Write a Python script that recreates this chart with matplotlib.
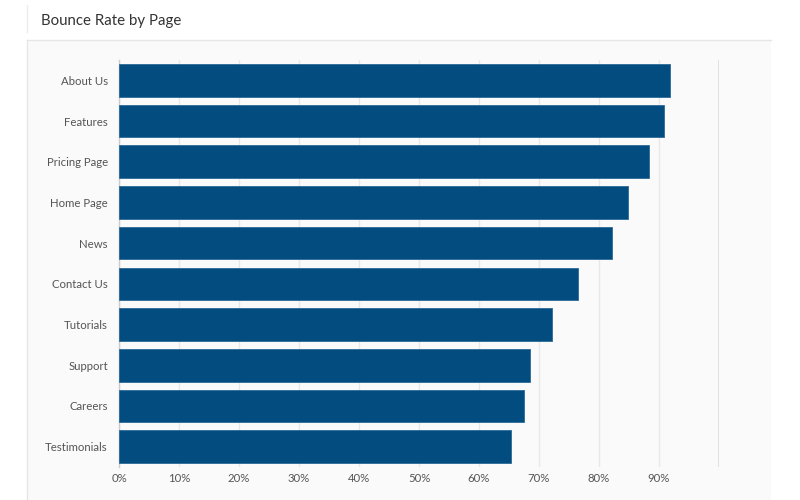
import matplotlib.pyplot as plt
from matplotlib.patches import Rectangle
from matplotlib.lines import Line2D

pages = ["About Us", "Features", "Pricing Page", "Home Page", "News",
         "Contact Us", "Tutorials", "Support", "Careers", "Testimonials"]
bounce = [91.8, 90.8, 88.3, 84.8, 82.2, 76.5, 72.2, 68.5, 67.5, 65.3]
ticks = [0, 10, 20, 30, 40, 50, 60, 70, 80, 90]
tick_labels = [f"{t}%" for t in ticks]

plt.rcParams['font.family'] = ['Lato', 'DejaVu Sans']

fig = plt.figure(figsize=(8, 5), dpi=100)
fig.patch.set_facecolor('white')

# card background
fig.patches.append(Rectangle((27/800, 0), (771-27)/800, 460/500, transform=fig.transFigure,
                             facecolor='#fafafa', edgecolor='none', zorder=-10))
fig.lines.append(Line2D([27/800, 771/800], [460/500, 460/500], transform=fig.transFigure,
                        color='#e6e6e6', lw=1, zorder=-9))
fig.lines.append(Line2D([27/800, 27/800], [0, 460/500], transform=fig.transFigure,
                        color='#e6e6e6', lw=1, zorder=-9))
fig.lines.append(Line2D([27/800, 27/800], [468/500, 495/500], transform=fig.transFigure,
                        color='#ececec', lw=1, zorder=-9))

fig.text(41/800, 1 - 21/500, "Bounce Rate by Page", fontsize=10.8, color='#333333',
         va='center', ha='left')

ax = fig.add_axes([119/800, 33/500, 600/800, 407/500])
ax.set_facecolor('none')
y = list(range(len(pages)))
ax.barh(y, bounce, height=0.8, color='#024c7f', edgecolor='#2b6a98', linewidth=0.6, zorder=3)
ax.set_ylim(len(pages) - 0.5, -0.5)
ax.set_xlim(0, 100)
ax.set_yticks(y)
ax.set_yticklabels(pages)
ax.set_xticks(ticks)
ax.set_xticklabels(tick_labels)
ax.tick_params(length=0, labelsize=8.2, labelcolor='#555555')
ax.tick_params(axis='y', pad=8)
ax.tick_params(axis='x', pad=4)
for s in ['top', 'right', 'bottom']:
    ax.spines[s].set_visible(False)
ax.spines['left'].set_color('#cccccc')
ax.spines['left'].set_linewidth(1)
ax.grid(axis='x', color='#e8e8e8', lw=1, zorder=0)
ax.axvline(100, color='#dddddd', lw=1.2, zorder=1)

fig.savefig('out.png', dpi=100)
